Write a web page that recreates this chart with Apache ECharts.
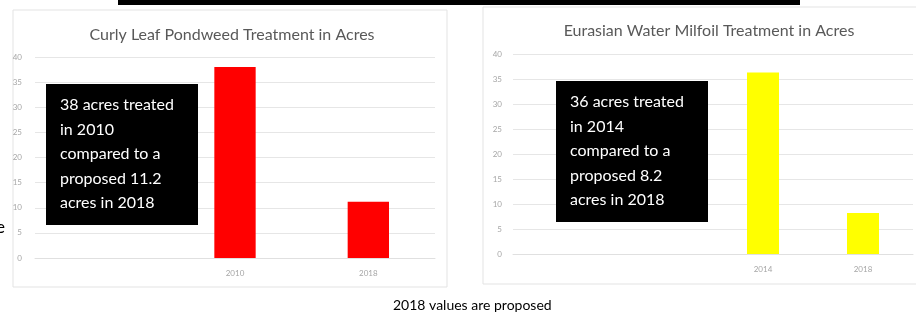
<!DOCTYPE html>
<html>
<head>
<meta charset="utf-8">
<script src="https://cdn.jsdelivr.net/npm/echarts@6/dist/echarts.min.js"></script>
<style>
  html, body { margin: 0; padding: 0; background: #fff; }
  #main { width: 916px; height: 316px; }
</style>
</head>
<body>
<div id="main"></div>
<script>
// left chart
var curlyYears = ['', '2010', '2018'];
var curlyAcres = ['-', 38, 11.2];
// right chart
var milfoilYears = ['', ' ', '2014', '2018'];
var milfoilAcres = ['-', '-', 36.3, 8.2];
var yTicks = { min: 0, max: 40, interval: 5 };

var curlyNote = ['38 acres treated', 'in 2010', 'compared to a', 'proposed 11.2', 'acres in 2018'];
var milfoilNote = ['36 acres treated', 'in 2014', 'compared to a', 'proposed 8.2', 'acres in 2018'];

var font = 'Lato, "Open Sans", sans-serif';

function yAxisOpt(idx, margin) {
	return {
		type: 'value', gridIndex: idx,
		min: yTicks.min, max: yTicks.max, interval: yTicks.interval,
		axisLine: { show: false }, axisTick: { show: false },
		axisLabel: { fontSize: 8, color: '#a6a6a6', margin: margin, fontFamily: font },
		splitLine: { lineStyle: { color: '#e6e6e6', width: 1 } }
	};
}
function xAxisOpt(idx, names) {
	return {
		type: 'category', gridIndex: idx, data: names,
		axisLine: { lineStyle: { color: '#e0e0e0' } },
		axisTick: { show: false },
		axisLabel: { fontSize: 8, color: '#a6a6a6', margin: 11, fontFamily: font }
	};
}
function noteBox(x, y, w, h, lines) {
	return {
		type: 'group', left: x, top: y, z: 100,
		children: [
			{ type: 'rect', z: 100, shape: { x: 0, y: 0, width: w, height: h }, style: { fill: '#000' } },
			{ type: 'text', z: 101, x: 14, y: 9, style: {
				text: lines.join('\n'), fill: '#fff', fontSize: 16, lineHeight: 24.5, fontFamily: font
			} }
		]
	};
}

var myChart = echarts.init(document.getElementById('main'));
var option = {
	animation: false,
	title: [
		{ text: 'Curly Leaf Pondweed Treatment in Acres', left: 227, top: 22, textAlign: 'center',
		  textStyle: { fontSize: 16, fontWeight: 'normal', color: '#595959', fontFamily: font } },
		{ text: 'Eurasian Water Milfoil Treatment in Acres', left: 704, top: 18, textAlign: 'center',
		  textStyle: { fontSize: 16, fontWeight: 'normal', color: '#595959', fontFamily: font } }
	],
	grid: [
		{ left: 35, top: 57, width: 400, height: 201 },
		{ left: 513, top: 54, width: 400, height: 200 }
	],
	xAxis: [xAxisOpt(0, curlyYears), xAxisOpt(1, milfoilYears)],
	yAxis: [yAxisOpt(0, 13), yAxisOpt(1, 11)],
	series: [
		{ type: 'bar', xAxisIndex: 0, yAxisIndex: 0, data: curlyAcres, barWidth: '31%',
		  itemStyle: { color: '#ff0000' } },
		{ type: 'bar', xAxisIndex: 1, yAxisIndex: 1, data: milfoilAcres, barWidth: '32%',
		  itemStyle: { color: '#ffff00' } }
	],
	graphic: [
		{ type: 'rect', shape: { x: 13, y: 10, width: 434, height: 277 }, z: -1,
		  style: { fill: 'none', stroke: '#e3e3e3', lineWidth: 1 } },
		{ type: 'rect', shape: { x: 483, y: 7, width: 440, height: 277 }, z: -1,
		  style: { fill: 'none', stroke: '#e3e3e3', lineWidth: 1 } },
		{ type: 'rect', shape: { x: 118, y: 0, width: 682, height: 5 }, style: { fill: '#000' } },
		noteBox(46, 84, 152, 141, curlyNote),
		noteBox(556, 81, 152, 141, milfoilNote),
		{ type: 'text', left: -4, top: 219, style: { text: 'e', fill: '#000', fontSize: 17, fontFamily: font } },
		{ type: 'text', left: 393, top: 298, style: { text: '2018 values are proposed', fill: '#000', fontSize: 14, fontFamily: font } }
	]
};
myChart.setOption(option);
</script>
</body>
</html>
